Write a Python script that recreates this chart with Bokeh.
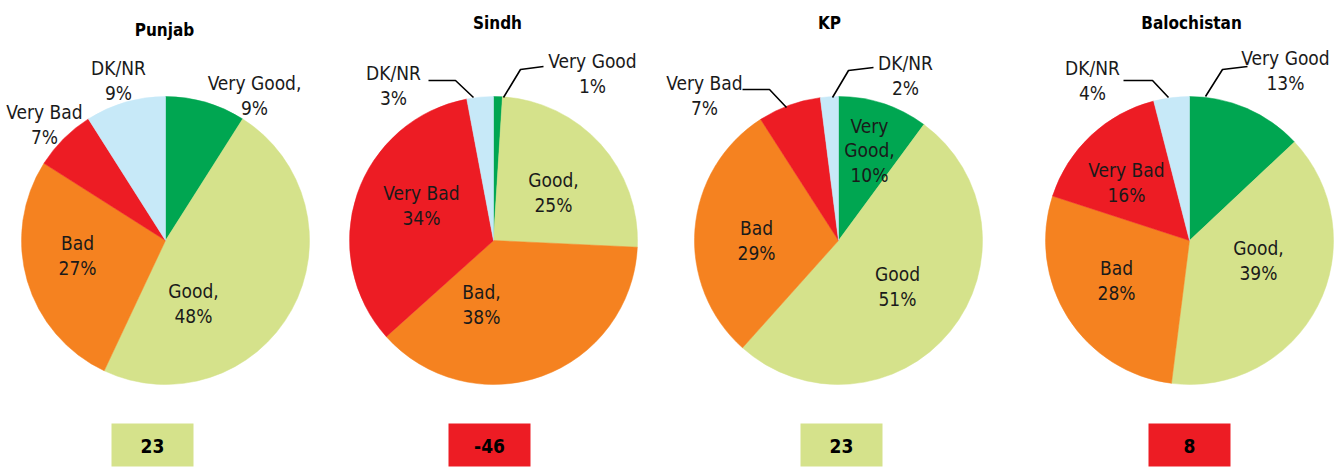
import math
from bokeh.plotting import figure
from bokeh.models import Range1d
from bokeh.core.properties import value
from bokeh.embed import file_html
from bokeh.resources import INLINE

# ---------------- data ----------------
regions = ["Punjab", "Sindh", "KP", "Balochistan"]
categories = ["Very Good", "Good", "Bad", "Very Bad", "DK/NR"]
very_good = [9, 1, 10, 13]
good = [48, 25, 51, 39]
bad = [27, 38, 29, 28]
very_bad = [7, 34, 7, 16]
dk_nr = [9, 3, 2, 4]
net_score = [23, -46, 23, 8]

label_names = [
    ["Very Good,", "Good,", "Bad", "Very Bad", "DK/NR"],
    ["Very Good", "Good,", "Bad,", "Very Bad", "DK/NR"],
    ["Very\nGood,", "Good", "Bad", "Very Bad", "DK/NR"],
    ["Very Good", "Good,", "Bad", "Very Bad", "DK/NR"],
]

# ---------------- style / layout ----------------
slice_colors = ["#00A651", "#D5E28B", "#F58220", "#ED1C24", "#C7E9F8"]
net_colors = ["#D5E28B", "#ED1C24", "#D5E28B", "#ED1C24"]
FONT = "DejaVu Sans Condensed, Roboto Condensed, Liberation Sans Narrow, Roboto, sans-serif"
W, H = 1338, 468
centers_x = [165, 493, 838, 1189]
center_y = 240
radius = 144
title_pos = [(164, 29), (497, 22), (829, 22), (1191, 22)]
box_cx = [152, 489, 841, 1189]
box_w, box_top, box_bot = 82, 423, 466

# label offsets relative to pie centre (screen px, y downward)
label_offsets = [
    [(89, -145), (28, 63), (-88, 15), (-121, -116), (-47, -160)],
    [(99, -167), (60, -48), (-12, 64), (-72, -35), (-100, -155)],
    [(31, -90), (59, 46), (-82, 0), (-134, -145), (67, -165)],
    [(96, -170), (69, 20), (-73, 40), (-63, -58), (-97, -160)],
]
# leader lines: (region index, list of offset points)
leaders = [
    (1, [(-65, -160), (-38, -160), (-20, -143)]),
    (1, [(50, -174), (27, -171), (10, -143)]),
    (2, [(35, -173), (10, -170), (-6, -143)]),
    (2, [(-96, -151), (-69, -151), (-52, -133)]),
    (3, [(58, -174), (33, -171), (16, -144)]),
    (3, [(-66, -160), (-37, -160), (-21, -143)]),
]


def Y(sy):
    return H - sy


p = figure(width=W, height=H, x_range=Range1d(0, W), y_range=Range1d(0, H),
           output_backend="svg", toolbar_location=None, x_axis_type=None, y_axis_type=None,
           min_border=0)
p.grid.visible = False
p.outline_line_color = None
p.background_fill_color = "white"

series = [very_good, good, bad, very_bad, dk_nr]
for r, name in enumerate(regions):
    vals = [s[r] for s in series]
    total = float(sum(vals))
    cum = 0.0
    for k, v in enumerate(vals):
        a0 = math.pi / 2 - 2 * math.pi * cum / total
        cum += v
        a1 = math.pi / 2 - 2 * math.pi * cum / total
        p.wedge(x=[centers_x[r]], y=[Y(center_y)], radius=radius,
                start_angle=a0, end_angle=a1, direction="clock",
                fill_color=slice_colors[k], line_color=slice_colors[k], line_width=0.5)
    # labels
    for k, v in enumerate(vals):
        dx, dy = label_offsets[r][k]
        p.text(x=[centers_x[r] + dx], y=[Y(center_y + dy)],
               text=[f"{label_names[r][k]}\n{v}%"],
               text_align="center", text_baseline="middle",
               text_font=value(FONT), text_font_size="19px", text_color="#1a1a1a",
               text_line_height=1.12)
    # title
    tx, ty = title_pos[r]
    p.text(x=[tx], y=[Y(ty)], text=[name], text_align="center", text_baseline="middle",
           text_font=value(FONT), text_font_style="bold", text_font_size="17px",
           text_color="black")
    # net box
    p.quad(left=[box_cx[r] - box_w / 2], right=[box_cx[r] + box_w / 2],
           top=[Y(box_top)], bottom=[Y(box_bot)], fill_color=net_colors[r], line_color=None)
    p.text(x=[box_cx[r]], y=[Y((box_top + box_bot) / 2 + 1)], text=[str(net_score[r])],
           text_align="center", text_baseline="middle", text_font=value(FONT),
           text_font_style="bold", text_font_size="19px", text_color="black")

for r, pts in leaders:
    xs = [centers_x[r] + dx for dx, dy in pts]
    ys = [Y(center_y + dy) for dx, dy in pts]
    p.line(x=xs, y=ys, line_color="black", line_width=1.6)

open("out.html", "w").write(file_html(p, INLINE))
